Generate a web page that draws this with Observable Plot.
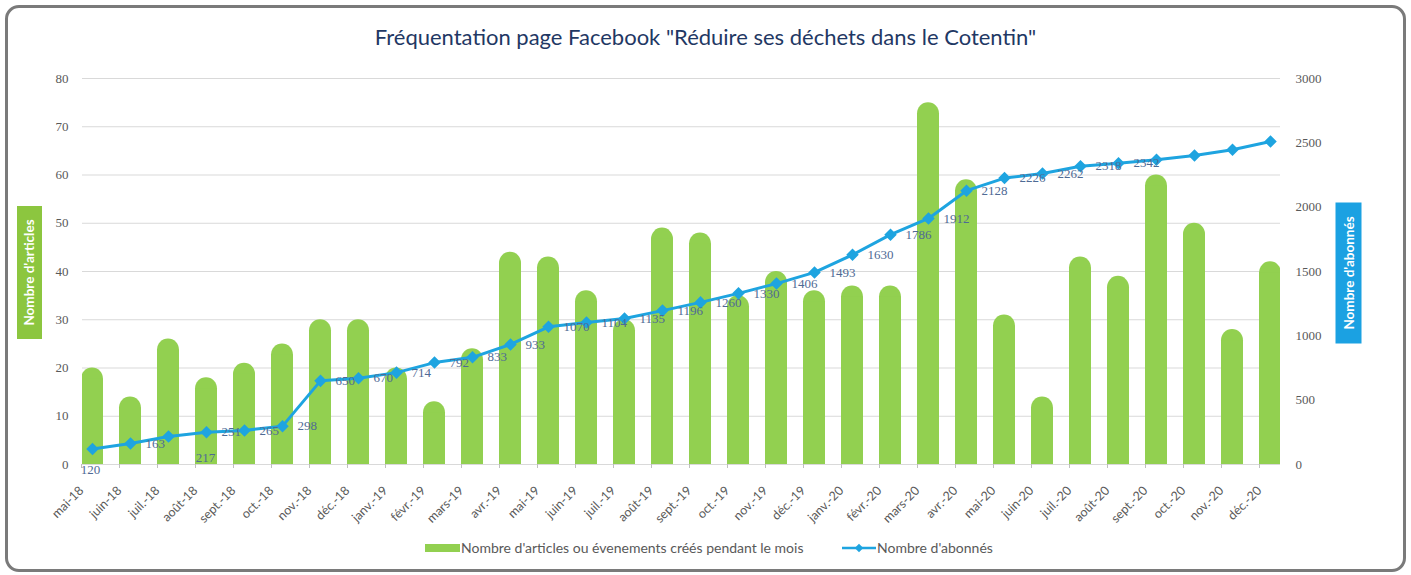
<!DOCTYPE html>
<html>
<head>
<meta charset="utf-8">
<script src="https://cdn.jsdelivr.net/npm/d3@7"></script>
<script src="https://cdn.jsdelivr.net/npm/@observablehq/plot@0.6"></script>
<style>
  body { margin: 0; background: #fff; }
  #chart { position: relative; width: 1411px; height: 575px; overflow: hidden; font-family: Lato, "Open Sans", sans-serif; }
  #frame { position: absolute; left: 5px; top: 5px; width: 1395px; height: 561px; border: 3px solid #7a7a7a; border-radius: 14px; }
  #title { position: absolute; left: 0; top: 23px; width: 1411px; text-align: center; font-size: 22px; line-height: 28px; color: #1f3864; }
  .plot { position: absolute; left: 0; top: 0; }
  .axtitle { position: absolute; color: #fff; font-weight: bold; font-size: 13.5px; text-align: center; transform: rotate(-90deg); transform-origin: center center; }
  #ltitle { background: #8cc63f; width: 133px; height: 25px; line-height: 25px; left: -37px; top: 260px; }
  #rtitle { background: #1ba1e2; width: 141px; height: 26px; line-height: 26px; left: 1278px; top: 259.5px; }
</style>
</head>
<body>
<div id="chart">
  <div id="frame"></div>
  <div id="title">Fréquentation page Facebook "Réduire ses déchets dans le Cotentin"</div>
  <div id="bars" class="plot"></div>
  <div id="lines" class="plot"></div>
  <div id="ltitle" class="axtitle">Nombre d'articles</div>
  <div id="rtitle" class="axtitle">Nombre d'abonnés</div>
  <svg style="position:absolute;left:0;top:535px" width="1411" height="26" font-family="Lato, sans-serif" font-size="14" fill="#595959">
    <rect x="425" y="9" width="35" height="8" fill="#92d050"></rect>
    <text x="461" y="13" dy="0.35em">Nombre d'articles ou évenements créés pendant le mois</text>
    <line x1="842" y1="13" x2="876" y2="13" stroke="#1ea4e0" stroke-width="2.5"></line>
    <rect x="856" y="10" width="6" height="6" fill="#1ea4e0" transform="rotate(45 859 13)"></rect>
    <text x="877" y="13" dy="0.35em">Nombre d'abonnés</text>
  </svg>
</div>
<script>
// ---- data ----
const months = ["mai-18","juin-18","juil.-18","août-18","sept.-18","oct.-18","nov.-18","déc.-18",
  "janv.-19","févr.-19","mars-19","avr.-19","mai-19","juin-19","juil.-19","août-19","sept.-19","oct.-19","nov.-19","déc.-19",
  "janv.-20","févr.-20","mars-20","avr.-20","mai-20","juin-20","juil.-20","août-20","sept.-20","oct.-20","nov.-20","déc.-20"];
const articles = [20,14,26,18,21,25,30,30, 20,13,24,44,43,36,30,49,48,35,40,36, 37,37,75,59,31,14,43,39,60,50,28,42];
const subscribers = [120,163,217,251,265,298,650,670, 714,792,833,933,1070,1104,1135,1196,1260,1330,1406,1493,
  1630,1786,1912,2128,2226,2262,2318,2342,2368,2401,2446,2510];
const leftTicks = [0,10,20,30,40,50,60,70,80];
const rightTicks = [0,500,1000,1500,2000,2500,3000];
const unlabeled = ["sept.-20","oct.-20","nov.-20","déc.-20"];

const rows = months.map((m, i) => ({month: m, articles: articles[i], subscribers: subscribers[i]}));

// ---- styles ----
const GREEN = "#92d050", BLUE = "#1ea4e0", GRID = "#d9d9d9", TXT = "#595959", LBL = "#4f6a95";
const SERIF = "'Liberation Serif', 'DejaVu Serif', serif";
const dims = {width: 1411, height: 540, marginLeft: 82, marginRight: 131, marginTop: 78, marginBottom: 76};
const xBand = {type: "band", domain: months, paddingInner: 0.413, paddingOuter: -0.2935, align: 0.5, label: null};

const barsPlot = Plot.plot({
  ...dims,
  style: {background: "transparent", fontFamily: "Lato", overflow: "visible", color: TXT},
  x: {...xBand},
  y: {domain: [0, 80], label: null},
  marks: [
    Plot.gridY(leftTicks, {stroke: GRID, strokeOpacity: 1}),
    Plot.barY(rows, {x: "month", y: "articles", fill: GREEN, rx: 11.3, clip: true}),
    Plot.barY(rows, {x: "month", y: "articles", fill: GREEN, insetTop: 11.3, clip: true}),
    Plot.ruleY([0], {stroke: GRID}),
    Plot.axisY(leftTicks, {anchor: "left", tickSize: 0, tickPadding: 14, fontFamily: SERIF, fontSize: 13, fill: TXT, label: null}),
    Plot.axisX({anchor: "bottom", tickSize: 4, stroke: "#bfbfbf", tickPadding: 20, dx: -11, tickRotate: -45, fontSize: 12.5, fill: TXT, label: null})
  ]
});
document.getElementById("bars").appendChild(barsPlot);

const labelStyle = {x: "month", y: "subscribers", text: d => String(d.subscribers), fill: LBL, fontFamily: SERIF, fontSize: 13};
const linePlot = Plot.plot({
  ...dims,
  style: {background: "transparent", fontFamily: "Lato", overflow: "visible", color: TXT},
  x: {...xBand, axis: null},
  y: {domain: [0, 3000], label: null},
  marks: [
    Plot.axisY(rightTicks, {anchor: "right", tickSize: 0, tickPadding: 15, tickFormat: d => String(d), fontFamily: SERIF, fontSize: 13, fill: TXT, textAnchor: "start", label: null}),
    Plot.line(rows, {x: "month", y: "subscribers", stroke: BLUE, strokeWidth: 3}),
    Plot.dot(rows, {x: "month", y: "subscribers", symbol: "square", r: 5, rotate: 45, fill: BLUE}),
    Plot.text(rows.filter(d => !unlabeled.includes(d.month) && d.month !== "mai-18" && d.month !== "juil.-18"),
      {...labelStyle, textAnchor: "start", dx: 15}),
    Plot.text(rows.filter(d => d.month === "mai-18"), {...labelStyle, dx: -2, dy: 21}),
    Plot.text(rows.filter(d => d.month === "juil.-18"), {...labelStyle, dx: 37, dy: 21})
  ]
});
document.getElementById("lines").appendChild(linePlot);
</script>
</body>
</html>
